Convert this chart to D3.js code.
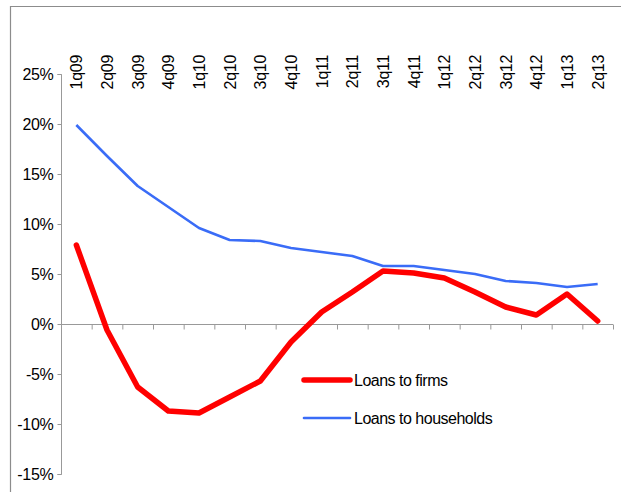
<!DOCTYPE html>
<html>
<head>
<meta charset="utf-8">
<script src="https://cdn.jsdelivr.net/npm/d3@7"></script>
<style>
  body { margin: 0; background: #fff; }
  svg { display: block; }
  text { font-family: "Liberation Sans", Arial, sans-serif; fill: #000; }
</style>
</head>
<body>
<svg id="chart" width="621" height="492"></svg>
<script>
const categories = ["1q09","2q09","3q09","4q09","1q10","2q10","3q10","4q10","1q11","2q11","3q11","4q11","1q12","2q12","3q12","4q12","1q13","2q13"];
const firms = [7.9, -0.6, -6.3, -8.7, -8.9, -7.3, -5.7, -1.8, 1.2, 3.2, 5.3, 5.1, 4.6, 3.2, 1.7, 0.9, 3.0, 0.3];
const households = [19.9, 16.8, 13.8, 11.7, 9.6, 8.4, 8.3, 7.6, 7.2, 6.8, 5.8, 5.8, 5.4, 5.0, 4.3, 4.1, 3.7, 4.0];
const yTicks = [25, 20, 15, 10, 5, 0, -5, -10, -15];
const seriesNames = ["Loans to firms", "Loans to households"];

const svg = d3.select("#chart");

// outer frame
svg.append("path").attr("d", "M10.5,492V6.5H621")
  .attr("fill", "none").attr("stroke", "#8c8c8c").attr("stroke-width", 1.2);

const x = d3.scaleBand().domain(categories).range([61, 613]);
const y = d3.scaleLinear().domain([-15, 25]).range([474, 74]);

// y axis
const yAxis = svg.append("g").attr("transform", "translate(61.5,0)")
  .call(d3.axisLeft(y).tickValues(yTicks).tickSize(4).tickPadding(4).tickFormat(d => d + "%"));
yAxis.select(".domain").attr("stroke", "#999").attr("d", `M-4,${y(25)+0.5}H0V${y(-15)+0.5}H-4`);
yAxis.selectAll(".tick line").attr("stroke", "#999");
yAxis.selectAll(".tick text").style("font-size", "16px").style("letter-spacing", "-0.3px").attr("fill", "#000");

// x axis at 0
const xAxis = svg.append("g").attr("transform", `translate(0,${Math.round(y(0)) + 0.5})`);
xAxis.append("line").attr("x1", 61).attr("x2", 613).attr("stroke", "#999");
xAxis.selectAll("line.tk").data(categories.concat(["__end"])).join("line").attr("class", "tk")
  .attr("x1", (d, i) => 61.5 + i * x.step()).attr("x2", (d, i) => 61.5 + i * x.step())
  .attr("y1", 0).attr("y2", 5).attr("stroke", "#999");

// top category labels
svg.append("g").selectAll("text").data(categories).join("text")
  .attr("transform", d => `translate(${x(d) + x.bandwidth() / 2 + 6},55) rotate(-90)`)
  .attr("text-anchor", "end")
  .style("font-size", "16px")
  .style("letter-spacing", "-0.3px")
  .text(d => d);

const line = d3.line()
  .x((d, i) => x(categories[i]) + x.bandwidth() / 2)
  .y(d => y(d));

svg.append("path").datum(households).attr("d", line)
  .attr("fill", "none").attr("stroke", "#3a6cf7").attr("stroke-width", 2.6).attr("stroke-linejoin", "round");
svg.append("path").datum(firms).attr("d", line)
  .attr("fill", "none").attr("stroke", "#ff0000").attr("stroke-width", 5.5).attr("stroke-linejoin", "round").attr("stroke-linecap", "round");

// legend
const legend = svg.append("g");
const legItems = [
  {name: seriesNames[0], color: "#ff0000", w: 5.5, yy: 380},
  {name: seriesNames[1], color: "#3a6cf7", w: 2.6, yy: 418}
];
legItems.forEach(it => {
  legend.append("line").attr("x1", 304).attr("x2", 350).attr("y1", it.yy).attr("y2", it.yy)
    .attr("stroke", it.color).attr("stroke-width", it.w).attr("stroke-linecap", "round");
  legend.append("text").attr("x", 354).attr("y", it.yy + 6)
    .style("font-size", "16px").style("letter-spacing", "-0.5px").text(it.name);
});
</script>
</body>
</html>
